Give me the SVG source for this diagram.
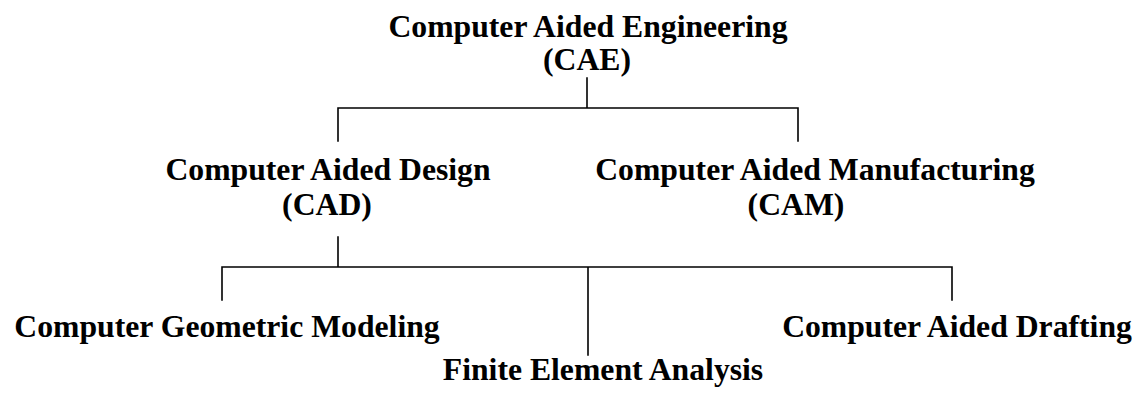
<svg xmlns="http://www.w3.org/2000/svg" width="1138" height="394" viewBox="0 0 1138 394">
  <style>
    .lbl { font-family: "Liberation Serif", "Times New Roman", serif; font-weight: bold; font-size: 31.7px; fill: #000; text-anchor: middle; }
    .link { stroke: #000; stroke-width: 1.6; fill: none; stroke-linecap: square; }
  </style>
  <rect width="1138" height="394" fill="#fff"/>

  <!-- hierarchy connectors -->
  <g id="connectors">
    <path class="link" d="M587 78 V108 M338 108 H798 M338 108 V141 M798 108 V141"/>
    <path class="link" d="M338 237 V267 M222 267 H952 M222 267 V300 M588 267 V355 M952 267 V300"/>
  </g>

  <g id="cae">
    <text class="lbl" x="588" y="37">Computer Aided Engineering</text>
    <text class="lbl" x="587" y="70">(CAE)</text>
  </g>
  <g id="cad">
    <text class="lbl" x="328" y="180">Computer Aided Design</text>
    <text class="lbl" x="327" y="215">(CAD)</text>
  </g>
  <g id="cam">
    <text class="lbl" x="815" y="180">Computer Aided Manufacturing</text>
    <text class="lbl" x="796" y="215">(CAM)</text>
  </g>
  <g id="geometric-modeling">
    <text class="lbl" x="227" y="337">Computer Geometric Modeling</text>
  </g>
  <g id="fea">
    <text class="lbl" x="603" y="380">Finite Element Analysis</text>
  </g>
  <g id="drafting">
    <text class="lbl" x="957" y="337">Computer Aided Drafting</text>
  </g>
</svg>
